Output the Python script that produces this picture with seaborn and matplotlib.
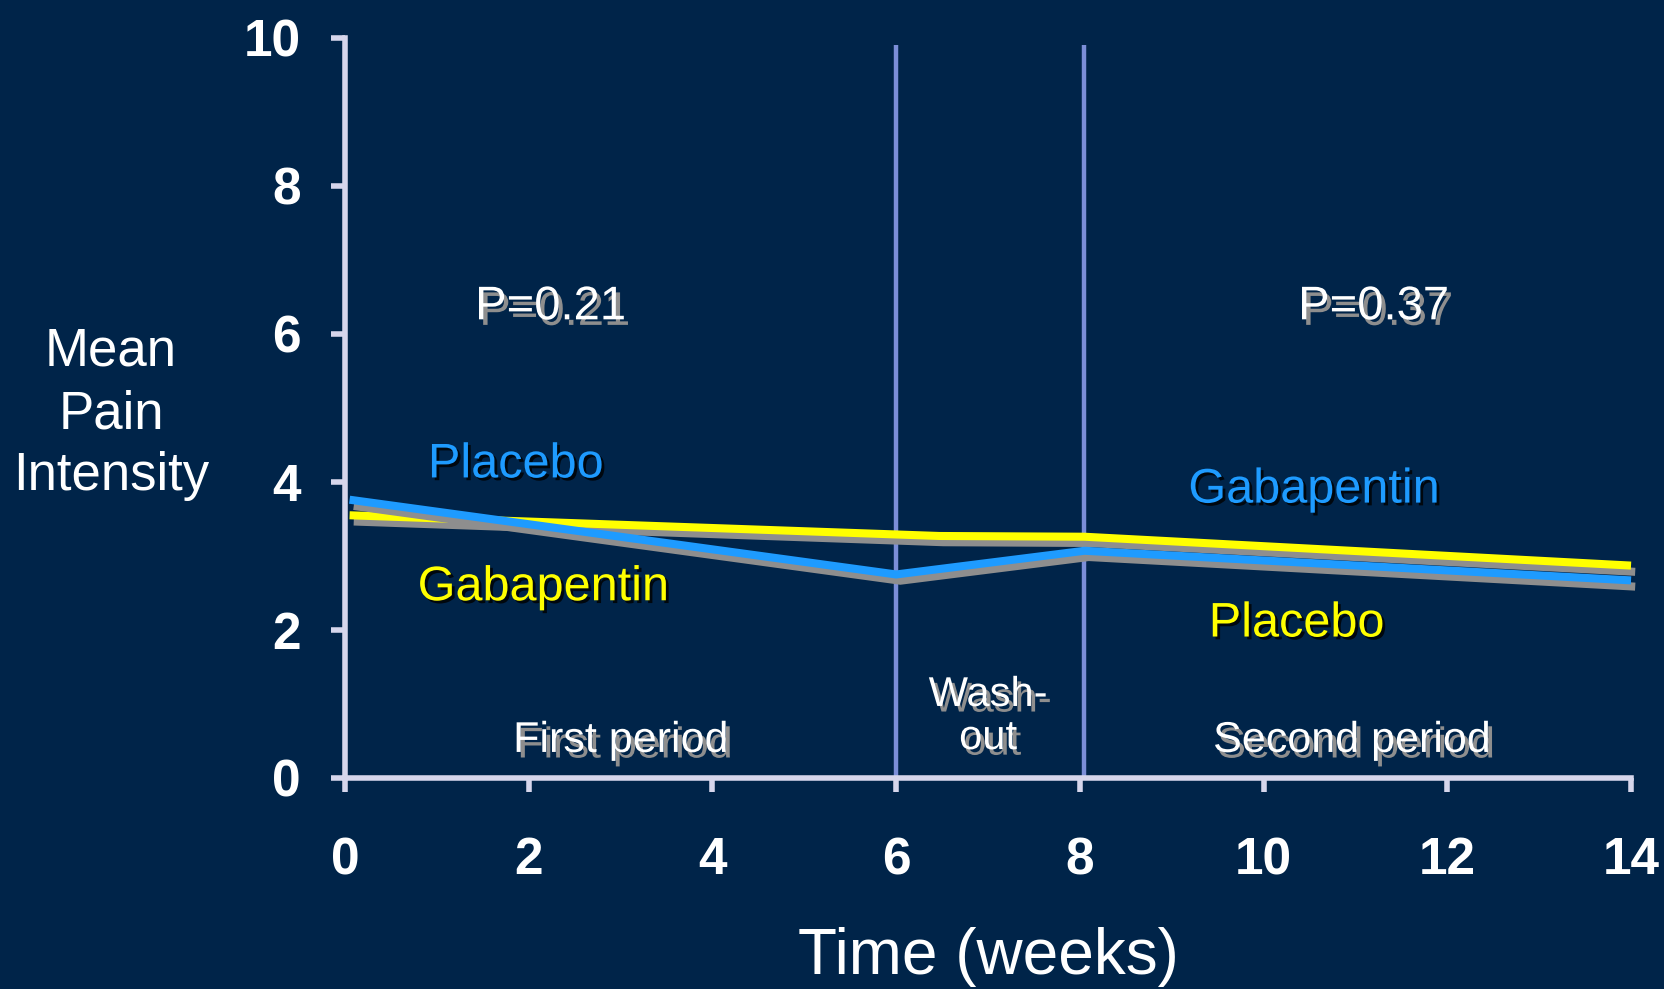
import numpy as np
import pandas as pd
import matplotlib
matplotlib.use("Agg")
import matplotlib.pyplot as plt
import matplotlib.patheffects as pe
import seaborn as sns

# ---- data ----
blue_weeks = [0.05, 6.0, 8.05, 14.0]
blue_pain = [3.76, 2.75, 3.07, 2.67]
yellow_weeks = [0.05, 6.47, 8.05, 14.0]
yellow_pain = [3.55, 3.27, 3.26, 2.87]
x_ticks = [0, 2, 4, 6, 8, 10, 12, 14]
y_ticks = [0, 2, 4, 6, 8, 10]
period_bounds = [6, 8.05]

BG = "#002449"
BLUE = "#1e9bff"
YELLOW = "#ffff00"
SHADOW = "#8e8e8e"
AXCOL = "#d6d6ec"
VLINE = "#7b8ed8"

sns.set_theme(style="white")
plt.rcParams["font.family"] = ["Liberation Sans", "DejaVu Sans"]

fig = plt.figure(figsize=(16.65, 9.89), dpi=100, facecolor=BG)
ax = fig.add_axes([0.2072, 0.2134, 0.9796 - 0.2072, 0.9616 - 0.2134])
ax.set_facecolor(BG)

df = pd.DataFrame({
    "week": yellow_weeks + blue_weeks,
    "pain": yellow_pain + blue_pain,
    "series": ["yellow"] * len(yellow_weeks) + ["blue"] * len(blue_weeks),
})

# vertical period boundaries
for b in period_bounds:
    ax.plot([b, b], [0, 9.9], color=VLINE, lw=3.2, zorder=1, solid_capstyle="butt")

sns.lineplot(data=df, x="week", y="pain", hue="series", sort=False,
             estimator=None, palette={"yellow": YELLOW, "blue": BLUE},
             linewidth=5.8, legend=False, ax=ax, zorder=3)
for ln in ax.get_lines()[len(period_bounds):]:
    ln.set_clip_on(False)
    ln.set_solid_joinstyle("miter")
    ln.set_solid_capstyle("butt")
    ln.set_path_effects([pe.SimpleLineShadow(offset=(3, -4.5), shadow_color=SHADOW, alpha=1.0),
                         pe.Normal()])

ax.set_xlim(0, 14)
ax.set_ylim(0, 10)
ax.set_xticks(x_ticks)
ax.set_yticks(y_ticks)
ax.set_xticklabels([str(t) for t in x_ticks])
ax.set_yticklabels([str(t) for t in y_ticks])
ax.tick_params(axis="x", direction="out", length=10, width=4, color=AXCOL,
               labelcolor="white", labelsize=37, pad=32, bottom=True)
ax.tick_params(axis="y", direction="out", length=10, width=4, color=AXCOL,
               labelcolor="white", labelsize=37, pad=22, left=True)
for lab in ax.get_xticklabels() + ax.get_yticklabels():
    lab.set_fontweight("bold")

for s in ["top", "right"]:
    ax.spines[s].set_visible(False)
for s in ["left", "bottom"]:
    ax.spines[s].set_color(AXCOL)
    ax.spines[s].set_linewidth(4)
ax.set_xlabel("")
ax.set_ylabel("")

# axis titles
fig.text(111 / 1665, 1 - 414 / 989, "Mean\nPain\nIntensity", color="white",
         fontsize=38, ha="center", va="center", linespacing=1.32)
fig.text(988 / 1665, 1 - 957 / 989, "Time (weeks)", color="white",
         fontsize=46, ha="center", va="center")

drop = [pe.SimplePatchShadow(offset=(2, -2), shadow_rgbFace="black", alpha=0.8), pe.Normal()]
gray = [pe.SimplePatchShadow(offset=(3, -4), shadow_rgbFace=SHADOW, alpha=1.0), pe.Normal()]

ax.text(1.86, 4.23, "Placebo", color=BLUE, fontsize=35, ha="center", va="center", path_effects=drop)
ax.text(2.16, 2.57, "Gabapentin", color=YELLOW, fontsize=35, ha="center", va="center", path_effects=drop)
ax.text(10.55, 3.89, "Gabapentin", color=BLUE, fontsize=35, ha="center", va="center", path_effects=drop)
ax.text(10.36, 2.08, "Placebo", color=YELLOW, fontsize=35, ha="center", va="center", path_effects=drop)

ax.text(2.24, 6.36, "P=0.21", color="white", fontsize=34, ha="center", va="center", path_effects=gray)
ax.text(11.2, 6.36, "P=0.37", color="white", fontsize=34, ha="center", va="center", path_effects=gray)
ax.text(3.0, 0.5, "First period", color="white", fontsize=31, ha="center", va="center", path_effects=gray)
ax.text(7.0, 0.83, "Wash-\nout", color="white", fontsize=30, ha="center", va="center",
        linespacing=1.1, path_effects=gray)
ax.text(10.96, 0.5, "Second period", color="white", fontsize=31, ha="center", va="center", path_effects=gray)

fig.savefig("out.png", dpi=100, facecolor=BG)
